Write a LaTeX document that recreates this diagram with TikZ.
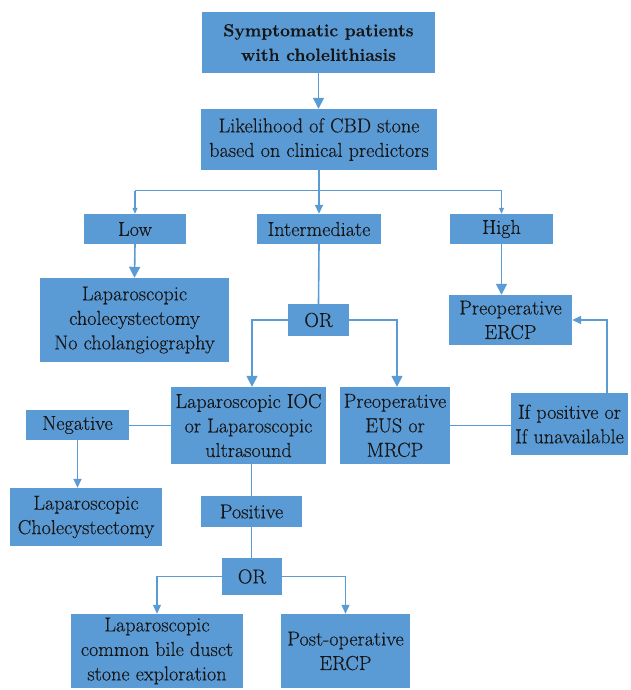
\documentclass[tikz,border=0pt]{standalone}
\usepackage{fontspec}
\setmainfont{Latin Modern Roman}[FakeBold=0.35]
\usetikzlibrary{arrows.meta,calc}
\definecolor{boxblue}{HTML}{5B9BD5}
\definecolor{lineblue}{HTML}{5B9BD5}
\definecolor{txt}{HTML}{161616}
\begin{document}
\begin{tikzpicture}[x=1pt,y=1pt,
  box/.style={fill=boxblue,draw=none,text=txt,align=center,inner sep=0pt,
    font=\fontsize{20.2}{24.5}\selectfont},
  ln/.style={draw=lineblue,line width=1.6pt},
  thin/.style={draw=lineblue,line width=1.1pt},
  bigarr/.style={-{Triangle[length=11pt,width=11pt]}},
  midarr/.style={-{Triangle[length=9pt,width=8pt]}},
  smallarr/.style={-{Triangle[length=6pt,width=5pt]}}]
\useasboundingbox (0,0) rectangle (630,-690);
\node[box,minimum width=233,minimum height=61,font=\fontsize{17.6}{24.5}\selectfont\bfseries] (sym) at (318.5,-42.5) {Symptomatic patients\\with cholelithiasis};
\node[box,minimum width=236,minimum height=61] (lik) at (319,-139.5) {Likelihood of CBD stone\\based on clinical predictors};
\node[box,minimum width=102,minimum height=30] (low) at (135,-229) {Low};
\node[box,minimum width=124,minimum height=30] (inter) at (319,-229) {Intermediate};
\node[box,minimum width=103,minimum height=30] (high) at (501.5,-229) {High};
\node[box,minimum width=189,minimum height=84] (lapno) at (134.5,-320) {Laparoscopic\\cholecystectomy\\No cholangiography};
\node[box,minimum width=61,minimum height=32] (or1) at (318.5,-320) {OR};
\node[box,minimum width=123,minimum height=50] (erpre) at (510.5,-320) {Preoperative\\ERCP};
\node[box,minimum width=155,minimum height=77] (ioc) at (248.5,-425.5) {Laparoscopic IOC\\or Laparoscopic\\ultrasound};
\node[box,minimum width=110,minimum height=77] (eus) at (395,-425.5) {Preoperative\\EUS or\\MRCP};
\node[box,minimum width=117,minimum height=62] (ifpos) at (569.5,-424) {If positive or\\If unavailable};
\node[box,minimum width=103,minimum height=30] (neg) at (77.5,-425) {Negative};
\node[box,minimum width=152,minimum height=58] (lapc) at (86,-517) {Laparoscopic\\Cholecystectomy};
\node[box,minimum width=101,minimum height=31] (pos) at (251.5,-511.5) {Positive};
\node[box,minimum width=60,minimum height=37] (or2) at (252,-576.5) {OR};
\node[box,minimum width=172,minimum height=74] (cbd) at (157,-651) {Laparoscopic\\common bile dusct\\stone exploration};
\node[box,minimum width=129,minimum height=74] (post) at (345.5,-651) {Post-operative\\ERCP};
\coordinate (split) at (319,-190.5);
\coordinate (rise) at (607,-393);
% connectors
\draw[ln,bigarr] (sym.south) -- (sym.south |- lik.north);
\draw[ln] (lik.south) -- (split);
\draw[thin] (split) -| (low.north |- split);
\draw[thin] (split) -| (high.north |- split);
\draw[thin,smallarr] (low.north |- split) -- (low.north);
\draw[thin,smallarr] (high.north |- split) -- (high.north);
\draw[ln,midarr] (split) -- (inter.north);
\draw[ln,bigarr] (low.south) -- (lapno.north);
\draw[ln] (inter.south) -- (or1.north);
\draw[ln,bigarr] (high.south) -- (high.south |- erpre.north);
\draw[ln,bigarr] (or1.west) -| ([xshift=3.5pt]ioc.north);
\draw[ln,bigarr] (or1.east) -| ([xshift=2pt]eus.north);
\draw[ln,midarr] (rise) |- (erpre.east);
\draw[ln] (eus.east) -- (eus.east -| ifpos.west);
\draw[ln] (ioc.west) -- (ioc.west -| neg.east);
\draw[ln,midarr] (neg.south) -- (neg.south |- lapc.north);
\draw[thin] (pos.north |- ioc.south) -- (pos.north);
\draw[thin] (pos.south) -- (pos.south |- or2.north);
\draw[thin,midarr] (or2.west) -| (cbd.north);
\draw[thin,midarr] (or2.east) -| (post.north);
\end{tikzpicture}
\end{document}
